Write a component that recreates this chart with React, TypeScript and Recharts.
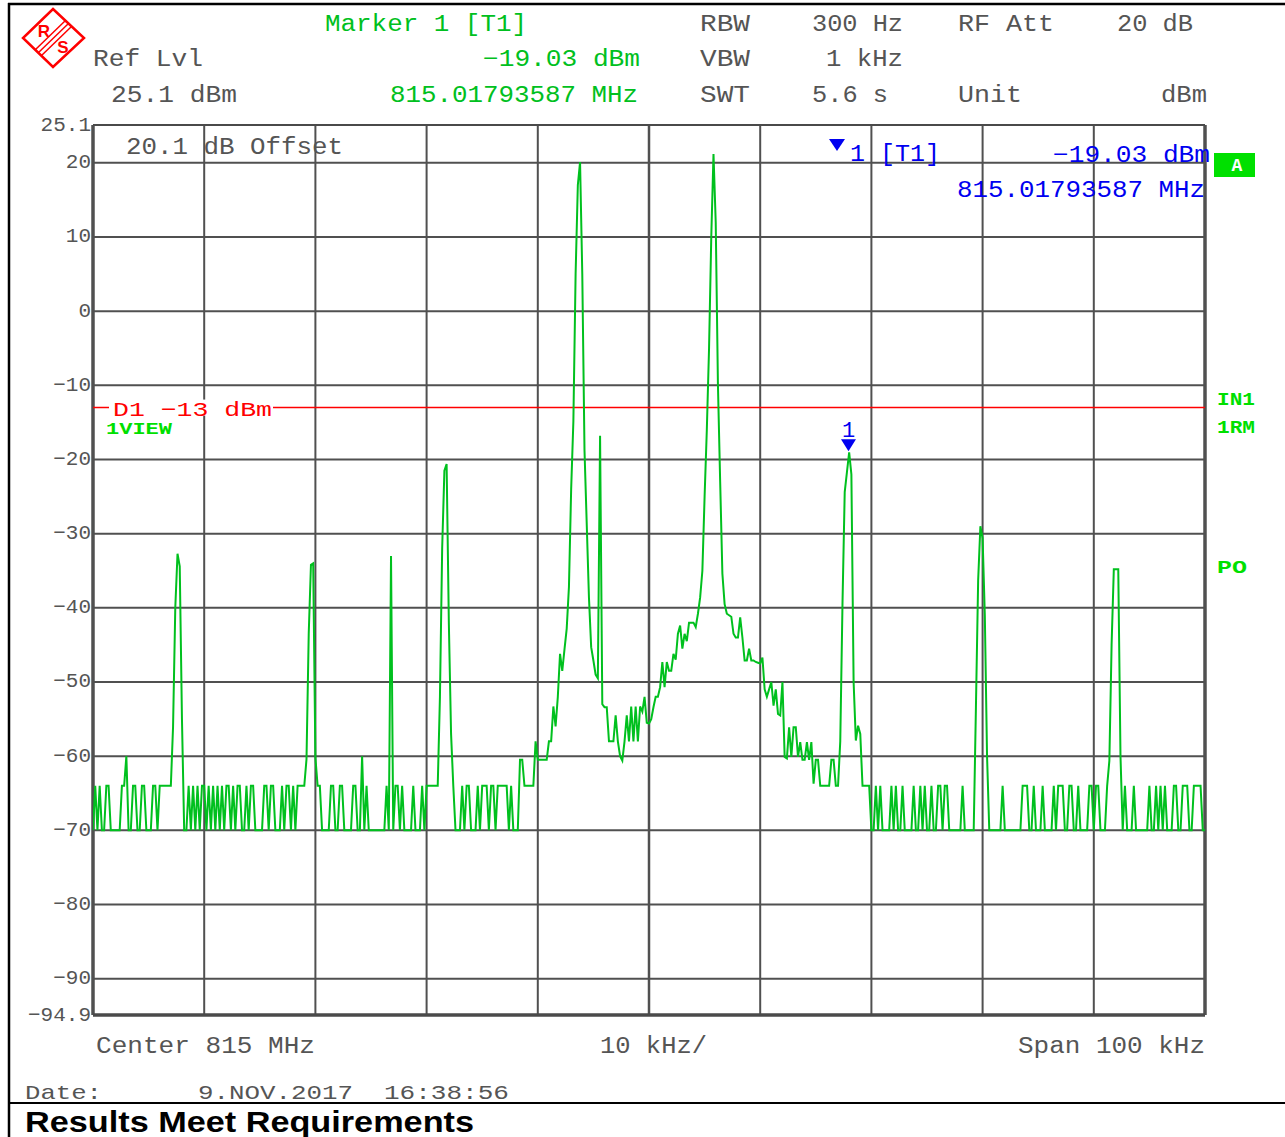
import React from 'react';
import { LineChart, Line, XAxis, YAxis, CartesianGrid, ReferenceLine, ReferenceDot } from 'recharts';

// Sweep: 501 points from -50 kHz to +50 kHz around 815 MHz (0.2 kHz per bin)
const SWEEP_START_KHZ = -50;
const SWEEP_STEP_KHZ = 0.2;

// Trace level per sweep point, dBm
const traceDbm: number[] = [
  -70, -64, -70, -64, -70, -70, -64, -64, -70, -70,
  -70, -70, -70, -64, -64, -60, -70, -70, -64, -64,
  -70, -70, -64, -64, -70, -70, -70, -64, -64, -70,
  -64, -64, -64, -64, -64, -64, -56, -40, -32.7, -34.4,
  -55, -70, -70, -64, -70, -64, -70, -64, -70, -64,
  -64, -70, -64, -70, -64, -70, -64, -70, -64, -70,
  -64, -64, -70, -64, -70, -64, -64, -70, -70, -64,
  -70, -64, -64, -70, -70, -70, -70, -64, -64, -70,
  -64, -64, -70, -70, -70, -64, -70, -64, -64, -70,
  -64, -70, -64, -64, -64, -64, -60.4, -43.5, -34.2, -34,
  -60.2, -64, -64, -70, -70, -70, -70, -64, -64, -70,
  -70, -64, -64, -70, -70, -70, -70, -64, -64, -70,
  -70, -60, -70, -64, -70, -70, -70, -70, -70, -70,
  -70, -70, -64, -70, -33, -70, -64, -64, -70, -64,
  -70, -70, -70, -70, -64, -70, -70, -70, -64, -70,
  -64, -64, -64, -64, -64, -64, -52, -32, -21.5, -20.6,
  -42, -57, -64, -70, -70, -70, -64, -70, -64, -64,
  -70, -70, -70, -64, -70, -64, -64, -64, -70, -64,
  -64, -70, -64, -64, -64, -64, -64, -70, -64, -70,
  -70, -70, -60.5, -60.5, -64, -64, -64, -64, -64, -58,
  -60.5, -60.5, -60.5, -60.5, -60.5, -58, -58, -53.3, -56, -52,
  -46.2, -48.5, -45.6, -42.8, -37.2, -24, -14.8, 5, 17, 20.1,
  5, -18.8, -28.7, -38.6, -45.3, -47.1, -49, -49.5, -16.8, -53,
  -53.4, -53.4, -58, -58, -58, -54.5, -58, -60, -60.6, -58,
  -54.5, -58, -53.3, -58, -53.3, -58, -53.3, -54, -52, -55.5,
  -55.6, -55, -53.4, -52, -52, -50.7, -47.3, -50.7, -47.3, -48.5,
  -48.5, -46.2, -47, -43.5, -42.4, -45.5, -43.5, -44.5, -42, -42,
  -42, -42.6, -40.8, -38.6, -35, -25, -16, -5, 10, 21.2,
  12, -10, -23, -35.4, -39.5, -40.8, -41, -41.2, -43.5, -44,
  -44, -41.3, -44, -47.1, -47.1, -45.5, -47.1, -47.1, -47.3, -47.4,
  -47.5, -46.7, -51, -52, -51, -50, -53.2, -51, -54.3, -54.5,
  -50, -60.1, -60.3, -56.1, -60.1, -56.1, -56.1, -60.1, -58.1, -60.5,
  -60.5, -58.1, -60.5, -58.1, -63.7, -60.5, -60.5, -64, -64, -64,
  -64, -64, -60.5, -60.5, -64, -64, -58, -39.5, -24.4, -21.7,
  -19.03, -22, -50, -57.9, -55.9, -57, -64, -64, -64, -64,
  -70, -70, -64, -70, -64, -70, -70, -70, -70, -64,
  -70, -64, -70, -70, -64, -70, -70, -70, -70, -64,
  -70, -70, -64, -70, -64, -70, -70, -64, -70, -70,
  -64, -64, -70, -64, -64, -70, -70, -70, -70, -70,
  -70, -64, -70, -70, -70, -70, -70, -53.4, -36.3, -29,
  -30.6, -41, -60, -70, -70, -70, -70, -70, -70, -64,
  -70, -70, -70, -70, -70, -70, -70, -70, -64, -64,
  -64, -70, -70, -64, -70, -70, -70, -64, -70, -70,
  -70, -70, -64, -70, -64, -64, -64, -70, -70, -64,
  -64, -70, -70, -64, -70, -70, -70, -70, -64, -64,
  -70, -64, -64, -70, -70, -70, -64, -60.6, -45, -34.8,
  -34.8, -34.8, -60, -70, -64, -70, -70, -70, -64, -70,
  -70, -70, -70, -70, -70, -64, -70, -70, -64, -70,
  -64, -70, -64, -70, -70, -70, -64, -64, -70, -70,
  -64, -64, -64, -70, -70, -64, -64, -64, -64, -70, -70,
];

const freqGridKhz = [-50, -40, -30, -20, -10, 0, 10, 20, 30, 40, 50];
const levelTicks = [25.1, 20, 10, 0, -10, -20, -30, -40, -50, -60, -70, -80, -90, -94.9];
const levelDomain: [number, number] = [-94.9, 25.1];
const limitLineDbm = -13;
const markerFreqKhz = 17.94;
const markerLevelDbm = -19.03;

const data = traceDbm.map((v, i) => ({
  f: Math.round((SWEEP_START_KHZ + i * SWEEP_STEP_KHZ) * 100) / 100,
  v,
}));

const MONO = '"Liberation Mono", "DejaVu Sans Mono", monospace';
const GRAY = '#555555';
const GRID = '#505050';
const GREEN = '#00c020';
const BRIGHT = '#00e000';
const BLUE = '#0000f0';
const RED = '#ff0000';

const fmt = (n: number) => (n < 0 ? '\u2212' + String(-n) : String(n));

const YTick = (props: any) => {
  const { x, y, payload } = props;
  return (
    <text x={x} y={y} textAnchor="end" dominantBaseline="central" fontFamily={MONO} fontSize={21} fill={GRAY}>
      {fmt(payload.value)}
    </text>
  );
};

type TP = { x: number; y: number; w: number; c: string; s?: number; bold?: boolean; family?: string; children: React.ReactNode };
const T = ({ x, y, w, c, s = 23, bold = false, family = MONO, children }: TP) => (
  <text
    x={x}
    y={y}
    textLength={w}
    lengthAdjust="spacingAndGlyphs"
    dominantBaseline="central"
    fontFamily={family}
    fontSize={s}
    fontWeight={bold ? 'bold' : 'normal'}
    fill={c}
  >
    {children}
  </text>
);

const limitLabel = (p: any) => {
  const vb = p.viewBox || { x: 93, y: 407 };
  return (
    <g>
      <rect x={vb.x + 16} y={vb.y - 8} width={164} height={16} fill="#ffffff" />
      <text
        x={vb.x + 20}
        y={vb.y + 3}
        textLength={159}
        lengthAdjust="spacingAndGlyphs"
        dominantBaseline="central"
        fontFamily={MONO}
        fontSize={21}
        fill={RED}
      >
        {'D1 \u221213 dBm'}
      </text>
    </g>
  );
};

const markerShape = (p: any) => {
  const { cx, cy } = p;
  return (
    <g>
      <polygon points={`${cx - 7.5},${cy - 13} ${cx + 7.5},${cy - 13} ${cx},${cy - 1}`} fill={BLUE} />
      <text x={cx} y={cy - 21} textAnchor="middle" dominantBaseline="central" fontFamily={MONO} fontSize={22} fill={BLUE}>
        1
      </text>
    </g>
  );
};

const Overlay = () => (
  <svg
    width={1285}
    height={1137}
    style={{ position: 'absolute', left: 0, top: 0, pointerEvents: 'none' }}
  >
    {/* outer frame */}
    <line x1={8} y1={4} x2={1285} y2={4} stroke="#000" strokeWidth={2.5} />
    <line x1={9} y1={3} x2={9} y2={1137} stroke="#000" strokeWidth={2.5} />
    <line x1={8} y1={1103} x2={1285} y2={1103} stroke="#000" strokeWidth={2} />

    {/* R&S logo */}
    <polygon points="53,9 84,38 53,67 23,38" fill="none" stroke={RED} strokeWidth={2.5} />
    <line x1={35} y1={50} x2={66} y2={20} stroke={RED} strokeWidth={1.5} />
    <line x1={38} y1={53} x2={69} y2={23} stroke={RED} strokeWidth={1.5} />
    <line x1={41} y1={56} x2={72} y2={26} stroke={RED} strokeWidth={1.5} />
    <text x={44} y={31} textAnchor="middle" dominantBaseline="central" fontFamily='"Liberation Sans", sans-serif' fontWeight="bold" fontSize={17} fill={RED}>R</text>
    <text x={63} y={47} textAnchor="middle" dominantBaseline="central" fontFamily='"Liberation Sans", sans-serif' fontWeight="bold" fontSize={17} fill={RED}>S</text>

    {/* header */}
    <T x={325} y={25} w={202} c={GREEN}>Marker 1 [T1]</T>
    <T x={93} y={60} w={110} c={GRAY}>Ref Lvl</T>
    <T x={483} y={60} w={157} c={GREEN}>{'\u221219.03 dBm'}</T>
    <T x={111} y={96} w={126} c={GRAY}>25.1 dBm</T>
    <T x={390} y={96} w={248} c={GREEN}>815.01793587 MHz</T>
    <T x={700} y={25} w={50} c={GRAY}>RBW</T>
    <T x={812} y={25} w={91} c={GRAY}>300 Hz</T>
    <T x={958} y={25} w={96} c={GRAY}>RF Att</T>
    <T x={1117} y={25} w={76} c={GRAY}>20 dB</T>
    <T x={700} y={60} w={50} c={GRAY}>VBW</T>
    <T x={826} y={60} w={77} c={GRAY}>1 kHz</T>
    <T x={700} y={96} w={50} c={GRAY}>SWT</T>
    <T x={812} y={96} w={76} c={GRAY}>5.6 s</T>
    <T x={958} y={96} w={64} c={GRAY}>Unit</T>
    <T x={1161} y={96} w={46} c={GRAY}>dBm</T>

    {/* in-plot annotations */}
    <T x={126} y={148} w={217} c={GRAY}>20.1 dB Offset</T>
    <polygon points="829,139 845,139 837,151" fill={BLUE} />
    <T x={850} y={155} w={90} c={BLUE}>1 [T1]</T>
    <T x={1053} y={156} w={157} c={BLUE}>{'\u221219.03 dBm'}</T>
    <T x={957} y={191} w={248} c={BLUE}>815.01793587 MHz</T>
    <T x={106} y={430} w={66} c={BRIGHT} s={16} bold>1VIEW</T>

    {/* right side indicators */}
    <rect x={1214} y={153} width={41} height={24} fill={BRIGHT} />
    <text x={1237} y={166} textAnchor="middle" dominantBaseline="central" fontFamily={MONO} fontWeight="bold" fontSize={18} fill="#ffffff">A</text>
    <T x={1217} y={400} w={38} c={BRIGHT} s={18} bold>IN1</T>
    <T x={1217} y={428} w={38} c={BRIGHT} s={18} bold>1RM</T>
    <T x={1217} y={568} w={30} c={BRIGHT} s={18} bold>PO</T>

    {/* footer */}
    <T x={96} y={1047} w={219} c={GRAY}>Center 815 MHz</T>
    <T x={600} y={1047} w={107} c={GRAY}>10 kHz/</T>
    <T x={1018} y={1047} w={187} c={GRAY}>Span 100 kHz</T>
    <T x={25} y={1093} w={77} c={GRAY} s={21}>Date:</T>
    <T x={198} y={1093} w={155} c={GRAY} s={21}>9.NOV.2017</T>
    <T x={384} y={1093} w={125} c={GRAY} s={21}>16:38:56</T>
    <T x={25} y={1122} w={449} c="#000000" s={29} bold family='"Liberation Sans", Arial, sans-serif'>
      Results Meet Requirements
    </T>
  </svg>
);

export default function App() {
  return (
    <div style={{ position: 'relative', width: 1285, height: 1137, background: '#ffffff', overflow: 'hidden' }}>
      <style>{'html,body{margin:0;padding:0;overflow:hidden;background:#fff}'}</style>
      <LineChart
        width={1285}
        height={1137}
        data={data}
        margin={{ top: 125, right: 80, bottom: 122, left: 33 }}
      >
        <CartesianGrid stroke={GRID} strokeWidth={2} vertical={false} />
        <XAxis
          dataKey="f"
          type="number"
          domain={[-50, 50]}
          ticks={freqGridKhz}
          tick={false}
          tickLine={false}
          axisLine={false}
          height={0}
          allowDataOverflow
        />
        <YAxis
          type="number"
          domain={levelDomain}
          ticks={levelTicks}
          interval={0}
          width={60}
          tickLine={false}
          axisLine={false}
          tickSize={0}
          tickMargin={2}
          tick={<YTick />}
          allowDataOverflow
        />
        {freqGridKhz.map((f) => (
          <ReferenceLine
            key={'v' + f}
            x={f}
            stroke={GRID}
            strokeWidth={f === -50 || f === 50 ? 3.5 : f === 0 ? 2.5 : 2}
          />
        ))}
        <ReferenceLine y={-94.9} stroke="#4a4a4a" strokeWidth={3.5} />
        <ReferenceLine y={25.1} stroke="#4a4a4a" strokeWidth={2} />
        <ReferenceLine y={limitLineDbm} stroke={RED} strokeWidth={1.5} label={limitLabel} />
        <Line
          type="linear"
          dataKey="v"
          stroke="#00c01e"
          strokeWidth={2}
          dot={false}
          isAnimationActive={false}
        />
        <ReferenceDot x={markerFreqKhz} y={markerLevelDbm} r={6} shape={markerShape} />
      </LineChart>
      <Overlay />
    </div>
  );
}
